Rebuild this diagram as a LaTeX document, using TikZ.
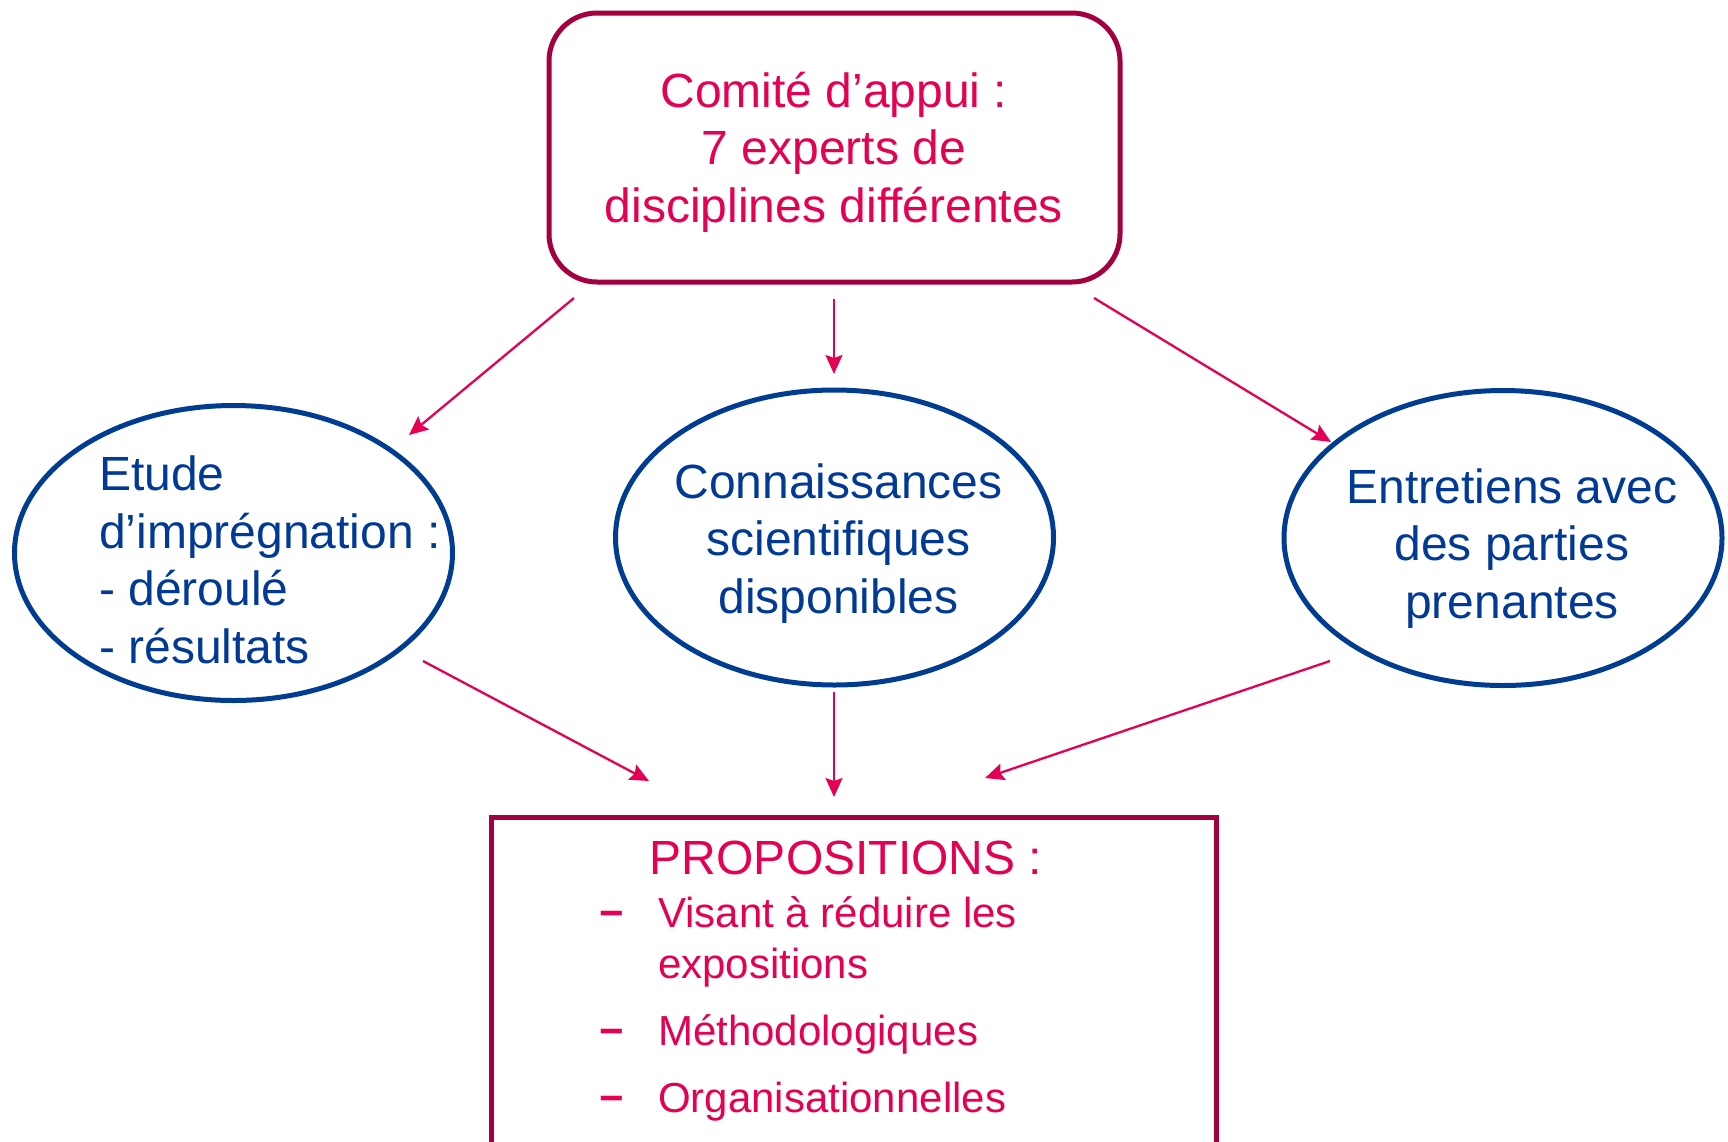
\documentclass[tikz,border=0pt]{standalone}
\usepackage{fontspec}
\setmainfont{Liberation Sans}
\usetikzlibrary{shapes.geometric,arrows.meta}
\definecolor{pinkt}{RGB}{228,0,82}
\definecolor{boxb}{RGB}{163,0,64}
\definecolor{blueb}{RGB}{0,61,145}
\definecolor{bluet}{RGB}{0,58,148}
\begin{document}
\begin{tikzpicture}[x=1pt,y=-1pt,
  ell/.style={draw=blueb, line width=5pt, ellipse, inner sep=0pt, minimum width=438pt, minimum height=295pt},
  arr/.style={draw=pinkt, line width=2.3pt, -{Stealth[length=19pt,width=17pt,inset=3pt]}},
  bigtxt/.style={font=\fontsize{48}{57.5}\selectfont, inner sep=0pt, anchor=base},
  smalltxt/.style={font=\fontsize{42}{51}\selectfont, inner sep=0pt, anchor=base west, text=pinkt},
]
\useasboundingbox (0,0) rectangle (1728,1141);
\clip (0,0) rectangle (1728,1141);
\fill[white] (0,0) rectangle (1728,1141);

% shapes
\node[draw=boxb, line width=5pt, rounded corners=48pt, minimum width=571pt, minimum height=269pt, inner sep=0pt] (top) at (834.5,147.5) {};
\node[ell] (left) at (233.5,553) {};
\node[ell] (mid) at (834.5,537.5) {};
\node[ell] (right) at (1503,538) {};
\node[draw=boxb, line width=4.5pt, minimum width=725pt, minimum height=400pt, inner sep=0pt, anchor=north] (prop) at (854,815) {};

% texts (anchor base = baseline of last line)
\node[bigtxt, text=pinkt, align=center] (toptxt) at (834,222) {Comité d’appui :\\7 experts de\\disciplines différentes};
\node[bigtxt, text=bluet, align=left, anchor=base west] (lefttxt) at (99,663) {Etude\\d’imprégnation :\\- déroulé\\- résultats};
\node[bigtxt, text=bluet, align=center] (midtxt) at (838.5,613) {Connaissances\\scientifiques\\disponibles};
\node[bigtxt, text=bluet, align=center] (righttxt) at (1512,618) {Entretiens avec\\des parties\\prenantes};

\node[bigtxt, text=pinkt] (ptitle) at (846,874) {PROPOSITIONS :};
\node[smalltxt] (d1) at (599,927) {\textbf{−}};
\node[smalltxt] (d2) at (599,1045) {\textbf{−}};
\node[smalltxt] (d3) at (599,1112) {\textbf{−}};
\node[smalltxt, align=left] (i1) at (658,978) {Visant à réduire les\\expositions};
\node[smalltxt] (i2) at (658,1045) {Méthodologiques};
\node[smalltxt] (i3) at (658,1112) {Organisationnelles};

% connector ends
\coordinate (a1s) at (574,298); \coordinate (a1e) at (409,435);
\coordinate (a2s) at (834,299); \coordinate (a2e) at (834,374);
\coordinate (a3s) at (1094,298); \coordinate (a3e) at (1331,442);
\coordinate (a4s) at (423,661); \coordinate (a4e) at (649,781);
\coordinate (a5s) at (834,692); \coordinate (a5e) at (834,797);
\coordinate (a6s) at (1330,661); \coordinate (a6e) at (985,778);

\draw[arr] (a1s) -- (a1e);
\draw[arr] (a2s) -- (a2e);
\draw[arr] (a3s) -- (a3e);
\draw[arr] (a4s) -- (a4e);
\draw[arr] (a5s) -- (a5e);
\draw[arr] (a6s) -- (a6e);
\end{tikzpicture}
\end{document}
